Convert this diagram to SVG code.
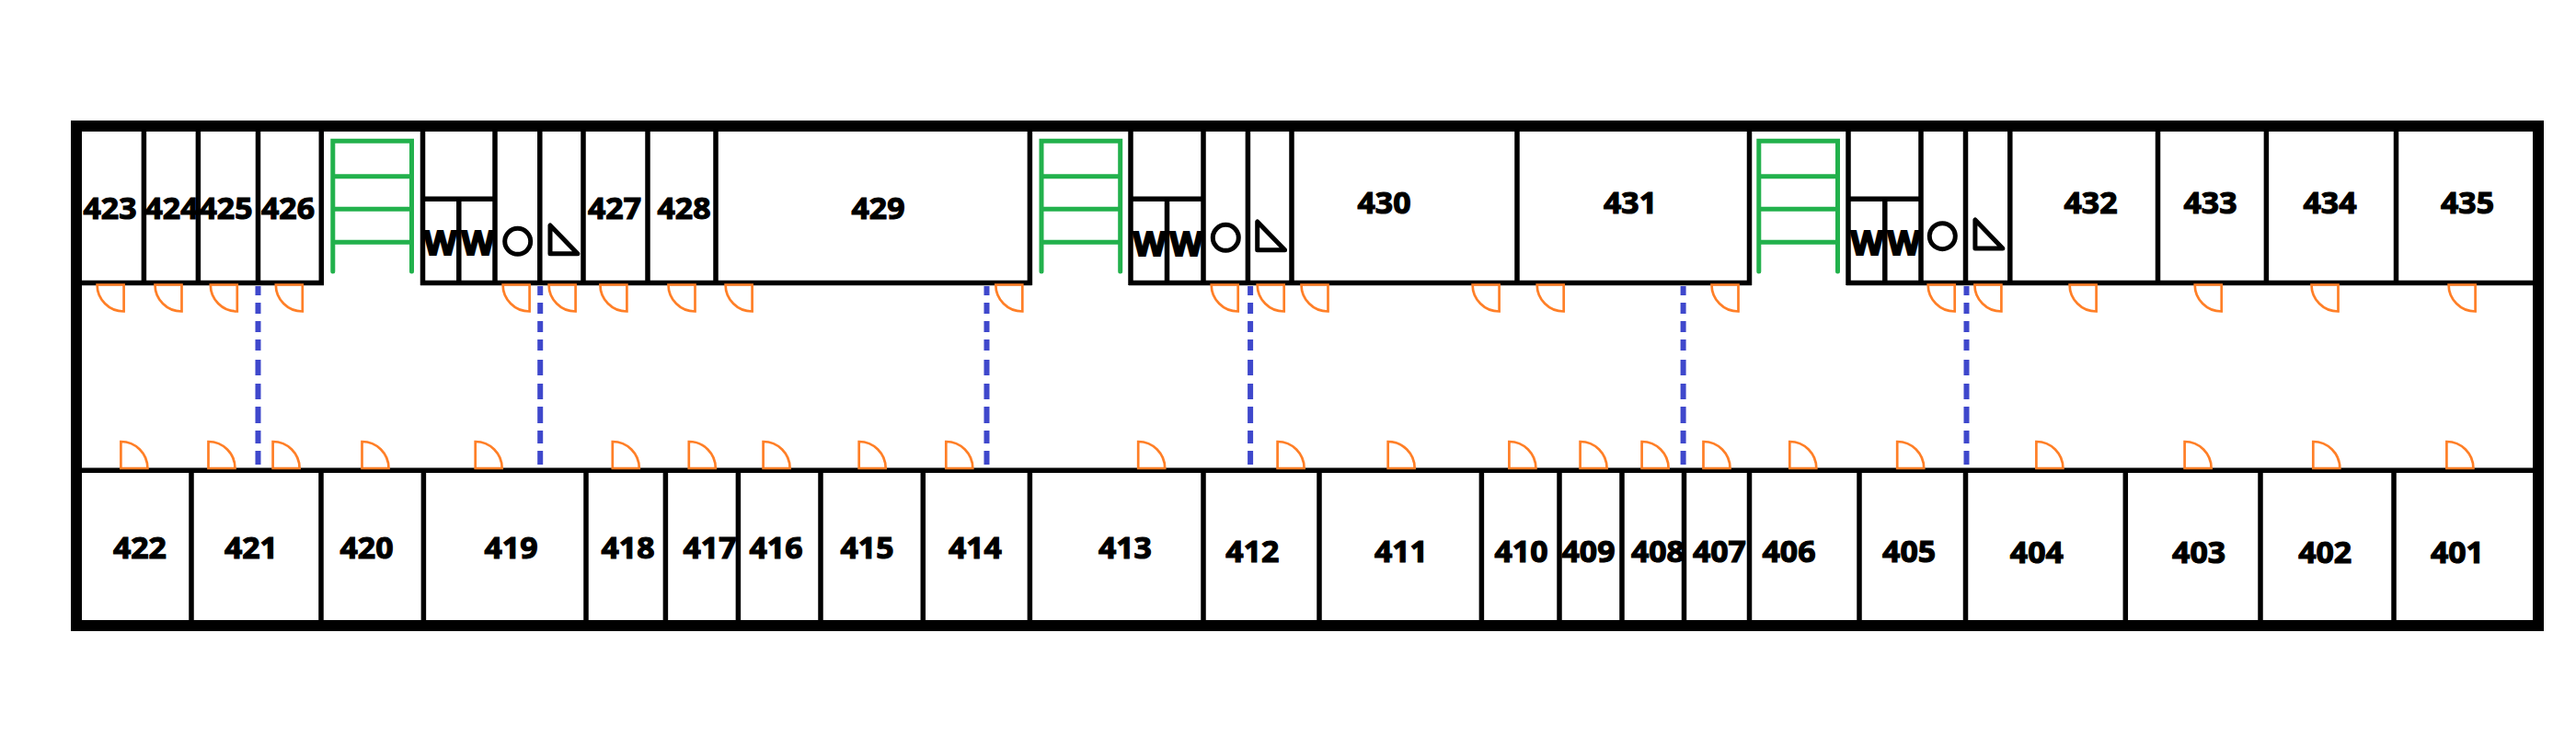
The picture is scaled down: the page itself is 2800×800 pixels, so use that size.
<svg xmlns="http://www.w3.org/2000/svg" width="2800" height="800" viewBox="0 0 2800 800">
<style>
.w{fill:none;stroke:#000;stroke-width:5.500}
.f{fill:none;stroke:#000;stroke-width:12}
.s{fill:none;stroke:#22b14c;stroke-width:5;stroke-linecap:round}
.d{fill:none;stroke:#ff7f27;stroke-width:2.700}
.b{fill:none;stroke:#3f48cc;stroke-width:6;stroke-dasharray:10 8 12 8 12 8 12 10 17 9 17 8 18 8 14 8 15 400}
.i{fill:none;stroke:#000;stroke-width:5;stroke-linejoin:round}
text{font-family:"Open Sans","Noto Sans",sans-serif;font-weight:700;font-size:33px;fill:#000;stroke:#000;stroke-width:1.200}
.t{font-size:36px;stroke-width:2}
</style>
<defs>
<g id="stair"><path class="s" d="M0 295V153.300H85.700V295M0 191.700H85.700M0 227.300H85.700M0 263.300H85.700"/></g>
<path id="dt" class="d" d="M0 0H29V29A29 29 0 0 1 0 0Z"/>
<path id="db" class="d" d="M0 0V29H29A29 29 0 0 0 0 0Z"/>
</defs>
<rect width="2800" height="800" fill="#fff"/>
<g id="walls">
<rect class="f" x="83" y="137" width="2676" height="543"/>
<path class="w" d="M83 307.500H352M457 307.500H1121.600M1227 307.500H1904M2007 307.500H2759M83 511.300H2759"/>
<path class="w" d="M156.400 137V307.500M215.400 137V307.500M280.500 137V307.500M349.300 137V310M459.500 137V310M538 137V307.500M586.800 137V307.500M634 137V307.500M704 137V307.500M778 137V307.500M1119.400 137V310M1229 137V310M1308 137V307.500M1356.400 137V307.500M1404 137V307.500M1649 137V307.500M1901.500 137V310M2009 137V310M2088 137V307.500M2136.500 137V307.500M2184.800 137V307.500M2345.500 137V307.500M2463.400 137V307.500M2604.500 137V307.500"/>
<path class="w" d="M208 511V680M349 511V680M460.400 511V680M637 511V680M723.400 511V680M802.400 511V680M892 511V680M1003.300 511V680M1119.400 511V680M1308 511V680M1434 511V680M1610.400 511V680M1695 511V680M1763 511V680M1830.500 511V680M1901.500 511V680M2021 511V680M2136.500 511V680M2310.300 511V680M2457 511V680M2602 511V680"/>
<path class="w" d="M459.500 216.300H538M498.800 216.300V307.500M1229 216.300H1308M1268.500 216.300V307.500M2009 216.300H2088M2048.800 216.300V307.500"/>
</g>
<g id="stairs"><use href="#stair" x="361.800"/><use href="#stair" x="1132"/><use href="#stair" x="1911.800"/></g>
<g id="fixtures">
<circle class="i" cx="562.700" cy="262.300" r="14"/><circle class="i" cx="1332.300" cy="258.300" r="14"/><circle class="i" cx="2111.300" cy="256.700" r="14"/>
<path class="i" d="M598 245V275.700H627.900Z"/><path class="i" d="M1366.700 241V271.700H1396.600Z"/><path class="i" d="M2146.900 239V270H2176.800Z"/>
</g>
<g id="connectors"><path class="b" d="M280.500 311V505M587.200 311V505M1072.500 311V505M1359.100 311V505M1829.600 311V505M2137.500 311V505"/></g>
<g id="doors-top">
<use href="#dt" x="105.600" y="309.500"/><use href="#dt" x="168.500" y="309.500"/><use href="#dt" x="228.800" y="309.500"/><use href="#dt" x="299.800" y="309.500"/><use href="#dt" x="546.600" y="309.500"/><use href="#dt" x="596.600" y="309.500"/><use href="#dt" x="652.400" y="309.500"/><use href="#dt" x="726.500" y="309.500"/><use href="#dt" x="788.600" y="309.500"/><use href="#dt" x="1082.300" y="309.500"/><use href="#dt" x="1316.700" y="309.500"/><use href="#dt" x="1366.700" y="309.500"/><use href="#dt" x="1414.500" y="309.500"/><use href="#dt" x="1600.600" y="309.500"/><use href="#dt" x="1670.700" y="309.500"/><use href="#dt" x="1860.500" y="309.500"/><use href="#dt" x="2095.700" y="309.500"/><use href="#dt" x="2146.400" y="309.500"/><use href="#dt" x="2249.600" y="309.500"/><use href="#dt" x="2385.700" y="309.500"/><use href="#dt" x="2512.500" y="309.500"/><use href="#dt" x="2661.600" y="309.500"/>
</g>
<g id="doors-bottom">
<use href="#db" x="131.400" y="480"/><use href="#db" x="226.500" y="480"/><use href="#db" x="296.600" y="480"/><use href="#db" x="393.500" y="480"/><use href="#db" x="516.700" y="480"/><use href="#db" x="665.800" y="480"/><use href="#db" x="748.800" y="480"/><use href="#db" x="829.600" y="480"/><use href="#db" x="933.700" y="480"/><use href="#db" x="1028.300" y="480"/><use href="#db" x="1237.200" y="480"/><use href="#db" x="1388.600" y="480"/><use href="#db" x="1508.700" y="480"/><use href="#db" x="1640.400" y="480"/><use href="#db" x="1717.600" y="480"/><use href="#db" x="1784.600" y="480"/><use href="#db" x="1851.500" y="480"/><use href="#db" x="1945.300" y="480"/><use href="#db" x="2062.200" y="480"/><use href="#db" x="2213.400" y="480"/><use href="#db" x="2374.600" y="480"/><use href="#db" x="2514.300" y="480"/><use href="#db" x="2659.400" y="480"/>
</g>
<g id="labels">
<text textLength="58" lengthAdjust="spacingAndGlyphs" x="90.500" y="238.300">423</text><text textLength="58" lengthAdjust="spacingAndGlyphs" x="157.500" y="238.300">424</text><text textLength="58" lengthAdjust="spacingAndGlyphs" x="216.500" y="238.300">425</text><text textLength="58" lengthAdjust="spacingAndGlyphs" x="284" y="238.300">426</text><text textLength="58" lengthAdjust="spacingAndGlyphs" x="639" y="238.300">427</text><text textLength="58" lengthAdjust="spacingAndGlyphs" x="714.500" y="238.300">428</text><text textLength="58" lengthAdjust="spacingAndGlyphs" x="925.500" y="238.300">429</text>
<text textLength="58" lengthAdjust="spacingAndGlyphs" x="1475.500" y="232">430</text><text textLength="58" lengthAdjust="spacingAndGlyphs" x="1743" y="232">431</text><text textLength="58" lengthAdjust="spacingAndGlyphs" x="2243.500" y="232">432</text><text textLength="58" lengthAdjust="spacingAndGlyphs" x="2373.500" y="232">433</text><text textLength="58" lengthAdjust="spacingAndGlyphs" x="2503.500" y="232">434</text><text textLength="58" lengthAdjust="spacingAndGlyphs" x="2653" y="232">435</text>
<text textLength="58" lengthAdjust="spacingAndGlyphs" x="122.900" y="606.700">422</text><text textLength="58" lengthAdjust="spacingAndGlyphs" x="243.900" y="606.700">421</text><text textLength="58" lengthAdjust="spacingAndGlyphs" x="369.500" y="606.700">420</text><text textLength="58" lengthAdjust="spacingAndGlyphs" x="526.500" y="606.700">419</text><text textLength="58" lengthAdjust="spacingAndGlyphs" x="653.500" y="606.700">418</text><text textLength="58" lengthAdjust="spacingAndGlyphs" x="742.500" y="606.700">417</text><text textLength="58" lengthAdjust="spacingAndGlyphs" x="814.500" y="606.700">416</text><text textLength="58" lengthAdjust="spacingAndGlyphs" x="913.500" y="606.700">415</text><text textLength="58" lengthAdjust="spacingAndGlyphs" x="1030.900" y="606.700">414</text><text textLength="58" lengthAdjust="spacingAndGlyphs" x="1193.900" y="606.700">413</text>
<text textLength="58" lengthAdjust="spacingAndGlyphs" x="1332.300" y="611">412</text><text textLength="58" lengthAdjust="spacingAndGlyphs" x="1493.900" y="611">411</text><text textLength="58" lengthAdjust="spacingAndGlyphs" x="1624.500" y="611">410</text><text textLength="58" lengthAdjust="spacingAndGlyphs" x="1697.500" y="611">409</text><text textLength="58" lengthAdjust="spacingAndGlyphs" x="1772.900" y="611">408</text><text textLength="58" lengthAdjust="spacingAndGlyphs" x="1839.900" y="611">407</text><text textLength="58" lengthAdjust="spacingAndGlyphs" x="1915.500" y="611">406</text><text textLength="58" lengthAdjust="spacingAndGlyphs" x="2046.100" y="611">405</text>
<text textLength="58" lengthAdjust="spacingAndGlyphs" x="2184.800" y="611.700">404</text><text textLength="58" lengthAdjust="spacingAndGlyphs" x="2361.100" y="611.700">403</text><text textLength="58" lengthAdjust="spacingAndGlyphs" x="2498.200" y="611.700">402</text><text textLength="58" lengthAdjust="spacingAndGlyphs" x="2641.900" y="611.700">401</text>
<text class="t" textLength="36" lengthAdjust="spacingAndGlyphs" x="460.500" y="276.700">W</text><text class="t" textLength="36" lengthAdjust="spacingAndGlyphs" x="501.500" y="276.700">W</text><text class="t" textLength="36" lengthAdjust="spacingAndGlyphs" x="1231.500" y="278.300">W</text><text class="t" textLength="36" lengthAdjust="spacingAndGlyphs" x="1271.500" y="278.300">W</text><text class="t" textLength="36" lengthAdjust="spacingAndGlyphs" x="2011.500" y="276.700">W</text><text class="t" textLength="36" lengthAdjust="spacingAndGlyphs" x="2051.500" y="276.700">W</text>
</g>
</svg>
